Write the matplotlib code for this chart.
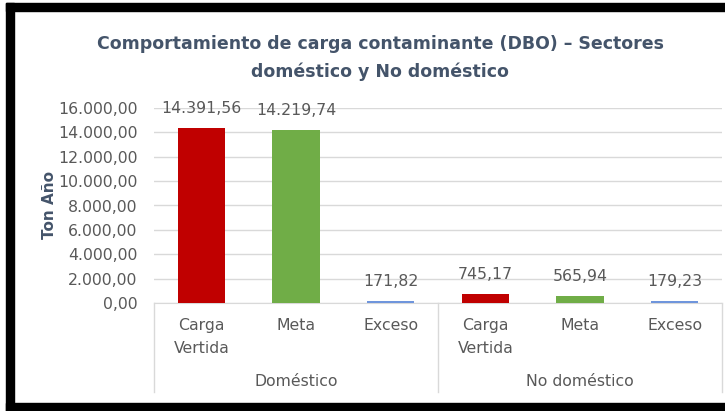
import matplotlib
matplotlib.use("Agg")
import matplotlib.pyplot as plt
from matplotlib.patches import Rectangle
from matplotlib.lines import Line2D

categories = ["Carga\nVertida", "Meta", "Exceso", "Carga\nVertida", "Meta", "Exceso"]
groups = ["Doméstico", "No doméstico"]
values = [14391.56, 14219.74, 171.82, 745.17, 565.94, 179.23]
value_labels = ["14.391,56", "14.219,74", "171,82", "745,17", "565,94", "179,23"]
colors = ["#C00000", "#70AD47", "#6F95DC", "#C00000", "#70AD47", "#6F95DC"]
yticks = [0, 2000, 4000, 6000, 8000, 10000, 12000, 14000, 16000]
ytick_labels = ["0,00", "2.000,00", "4.000,00", "6.000,00", "8.000,00",
                "10.000,00", "12.000,00", "14.000,00", "16.000,00"]
title = "Comportamiento de carga contaminante (DBO) – Sectores\ndoméstico y No doméstico"

plt.rcParams['font.family'] = ['DejaVu Sans']
W, H = 725, 411
fig = plt.figure(figsize=(W / 100, H / 100), dpi=100)
fig.patch.set_facecolor("white")

left, right, y0, ytop = 154, 722, 303, 108
ax = fig.add_axes([left / W, (H - y0) / H, (right - left) / W, (y0 - ytop) / H])
x = list(range(len(values)))
ax.bar(x, values, width=0.5, color=colors, zorder=3)
ax.set_xlim(-0.5, len(values) - 0.5)
ax.set_ylim(0, 16000)
ax.set_yticks(yticks)
ax.set_yticklabels(ytick_labels, color="#595959", fontsize=11.3)
ax.tick_params(axis="y", length=0, pad=12)
ax.set_xticks([])
for s in ["top", "right", "left"]:
    ax.spines[s].set_visible(False)
ax.spines["bottom"].set_color("#D9D9D9")
ax.yaxis.grid(True, color="#D9D9D9", linewidth=1, zorder=0)
ax.set_axisbelow(True)

for xi, v, lab in zip(x, values, value_labels):
    ax.annotate(lab, (xi, v), xytext=(0, 8.5), textcoords="offset points",
                ha="center", va="bottom", fontsize=11.3, color="#595959")

# category labels
for xi, c in zip(x, categories):
    fx = (left + (xi + 0.5) * (right - left) / 6) / W
    fig.text(fx, (H - 318) / H, c, ha="center", va="top", fontsize=11.3,
             color="#595959", linespacing=1.65)
for gi, g in enumerate(groups):
    fx = (left + (gi * 3 + 1.5) * (right - left) / 6) / W
    fig.text(fx, (H - 381) / H, g, ha="center", va="center", fontsize=11.3,
             color="#595959")
for px in [left, left + 3 * (right - left) / 6, right]:
    fig.add_artist(Line2D([px / W, px / W], [(H - y0) / H, (H - 392) / H],
                          color="#D9D9D9", linewidth=1))

fig.text(380 / W, (H - 58) / H, title, ha="center", va="center", fontsize=12.5,
         fontweight="bold", color="#44546A", linespacing=1.6)
fig.text(50 / W, (H - 205) / H, "Ton Año", rotation=90, ha="center", va="center",
         fontsize=11, fontweight="bold", color="#44546A")

# black frame pieces
fig.add_artist(Rectangle((6 / W, 0), 8 / W, (H - 3) / H, color="black"))
fig.add_artist(Rectangle((6 / W, (H - 11) / H), (W - 6) / W, 8 / H, color="black"))
fig.add_artist(Rectangle((6 / W, 0), (W - 6) / W, 8 / H, color="black"))

fig.savefig("out.png", dpi=100)
